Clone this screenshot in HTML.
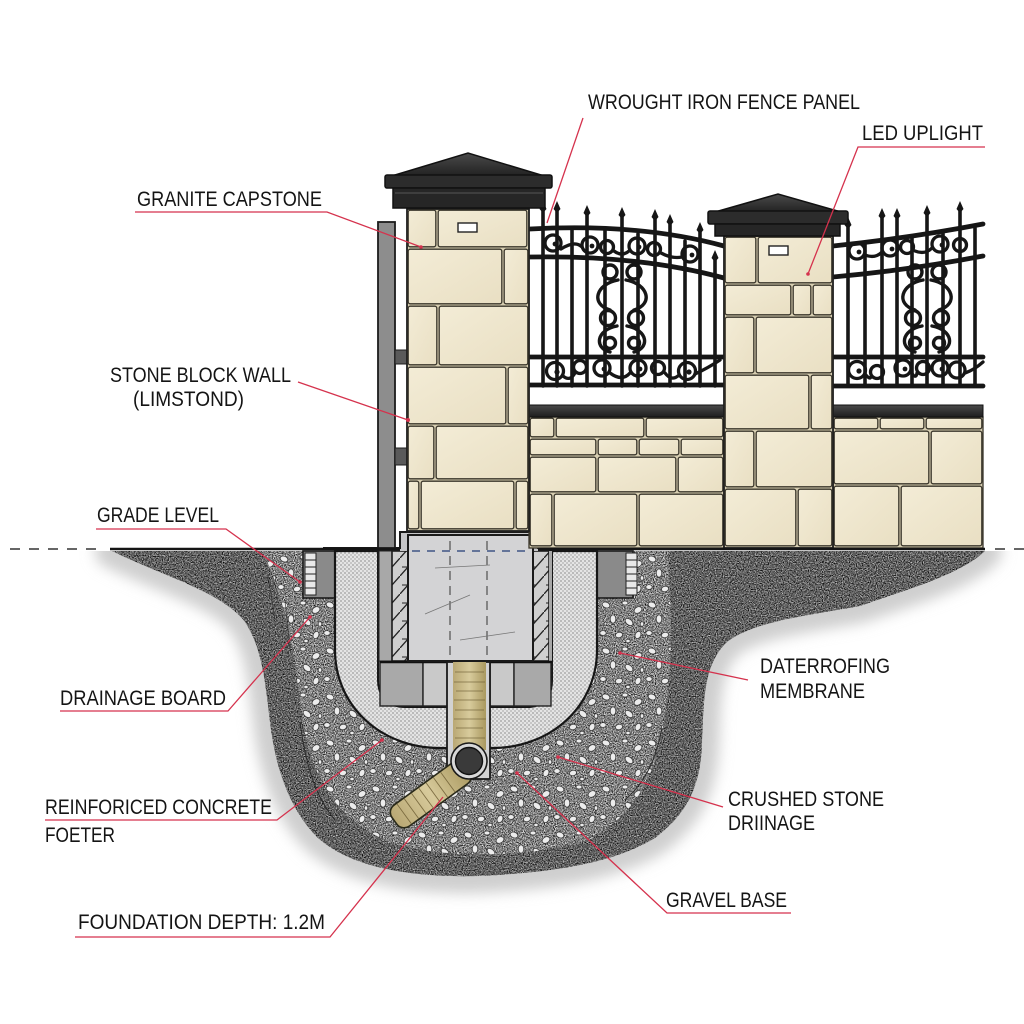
<!DOCTYPE html>
<html><head><meta charset="utf-8"><style>
html,body{margin:0;padding:0;background:#fff;}
svg{display:block;}
text{font-family:"Liberation Sans",sans-serif;fill:#141414;font-size:21px;}
</style></head><body>
<svg width="1024" height="1024" viewBox="0 0 1024 1024" xmlns="http://www.w3.org/2000/svg">
<defs>
  <filter id="nSoil" x="0" y="0" width="1" height="1" color-interpolation-filters="sRGB">
    <feTurbulence type="fractalNoise" baseFrequency="0.85" numOctaves="2" seed="4"/>
    <feColorMatrix type="matrix" values="0.95 0.95 0.95 0 -0.96  0.95 0.95 0.95 0 -0.96  0.95 0.95 0.95 0 -0.96  0 0 0 0 1"/>
  </filter>
  <filter id="nGrav" x="0" y="0" width="1" height="1" color-interpolation-filters="sRGB">
    <feTurbulence type="fractalNoise" baseFrequency="0.9" numOctaves="2" seed="9"/>
    <feColorMatrix type="matrix" values="1.1 1.1 1.1 0 -1.1  1.1 1.1 1.1 0 -1.1  1.1 1.1 1.1 0 -1.1  0 0 0 0 1"/>
  </filter>
  <filter id="blur6"><feGaussianBlur stdDeviation="7"/></filter>
  <clipPath id="below"><rect x="0" y="551" width="1024" height="473"/></clipPath>
  <clipPath id="soilClip"><path d="M 112 551 L 985 551 C 960 575, 905 590, 860 606 C 805 616, 752 622, 727 642 C 703 665, 704 700, 702 745 C 700 790, 685 815, 655 838 C 615 862, 560 872, 480 876 C 405 878, 350 866, 318 838 C 288 808, 275 765, 270 722 C 265 680, 262 648, 245 622 C 222 592, 165 577, 112 551 Z"/></clipPath>
  <clipPath id="gravClip"><path d="M 262 551 L 668 551 C 670 600, 675 660, 664 720 C 656 780, 632 815, 592 838 C 542 858, 440 860, 390 842 C 340 822, 313 782, 303 722 C 296 672, 288 600, 262 551 Z"/></clipPath>
  <pattern id="peb" width="46" height="46" patternUnits="userSpaceOnUse">
    <g fill="#ececec" stroke="#3a3a3a" stroke-width="0.8">
      <ellipse cx="8" cy="7" rx="4" ry="2.8" transform="rotate(20 8 7)"/>
      <ellipse cx="27" cy="5" rx="3" ry="2"/>
      <ellipse cx="40" cy="12" rx="4.2" ry="3" transform="rotate(-30 40 12)"/>
      <ellipse cx="15" cy="21" rx="2.8" ry="4.2"/>
      <ellipse cx="31" cy="24" rx="4.5" ry="2.8" transform="rotate(40 31 24)"/>
      <ellipse cx="5" cy="35" rx="3.2" ry="2.4"/>
      <ellipse cx="21" cy="37" rx="3.6" ry="2.7" transform="rotate(-15 21 37)"/>
      <ellipse cx="40" cy="37" rx="2.8" ry="3.8" transform="rotate(25 40 37)"/>
      <ellipse cx="30" cy="43" rx="2.2" ry="1.8"/>
      <ellipse cx="44" cy="26" rx="1.8" ry="2.3"/>
    </g>
  </pattern>
  <pattern id="dots" width="4" height="4" patternUnits="userSpaceOnUse">
    <rect width="4" height="4" fill="#e4e4e4"/>
    <circle cx="1" cy="1" r="0.9" fill="#9c9c9c"/>
    <circle cx="3" cy="3" r="0.9" fill="#b0b0b0"/>
  </pattern>
  <pattern id="hatch" width="16" height="18" patternUnits="userSpaceOnUse">
    <rect width="16" height="18" fill="#cfcfcf"/>
    <path d="M0 18 L16 0" stroke="#222" stroke-width="1.3"/>
    <path d="M2 9 L8 9" stroke="#222" stroke-width="1"/>
  </pattern>
  <linearGradient id="cap" x1="0" y1="0" x2="0" y2="1">
    <stop offset="0" stop-color="#4a4a4a"/><stop offset="1" stop-color="#1e1e1e"/>
  </linearGradient>
  <linearGradient id="stone" x1="0" y1="0" x2="1" y2="1">
    <stop offset="0" stop-color="#f3ecd6"/><stop offset="1" stop-color="#e9dfc3"/>
  </linearGradient>
  <linearGradient id="pipeg" x1="0" y1="0" x2="1" y2="0">
    <stop offset="0" stop-color="#b9a874"/><stop offset="0.5" stop-color="#d8cb9c"/><stop offset="1" stop-color="#a9985f"/>
  </linearGradient>
</defs>

<rect width="1024" height="1024" fill="#fff"/>

<!-- ===== UNDERGROUND ===== -->
<g clip-path="url(#below)">
  <path d="M 112 551 L 985 551 C 960 575, 905 590, 860 606 C 805 616, 752 622, 727 642 C 703 665, 704 700, 702 745 C 700 790, 685 815, 655 838 C 615 862, 560 872, 480 876 C 405 878, 350 866, 318 838 C 288 808, 275 765, 270 722 C 265 680, 262 648, 245 622 C 222 592, 165 577, 112 551 Z" fill="#cfcfcf" stroke="#cfcfcf" stroke-width="34" stroke-linejoin="round" filter="url(#blur6)"/>
</g>
<g clip-path="url(#soilClip)">
  <rect x="100" y="540" width="900" height="345" filter="url(#nSoil)"/>
  <rect x="100" y="540" width="900" height="345" fill="#000" opacity="0.18"/>
</g>
<g clip-path="url(#gravClip)">
  <rect x="250" y="540" width="430" height="330" filter="url(#nGrav)"/>
  <rect x="250" y="540" width="430" height="330" fill="#000" opacity="0.08"/>
  <rect x="250" y="540" width="430" height="330" fill="url(#peb)"/>
</g>
<path d="M 300 722 C 306 770, 318 800, 335 820" fill="none" stroke="#2a2a2a" stroke-width="1"/>
<path d="M 662 728 C 655 765, 642 785, 625 800" fill="none" stroke="#2a2a2a" stroke-width="1"/>
<path d="M 268 575 L 275 620 M 285 600 L 290 650" stroke="#333" stroke-width="1" opacity="0.7"/>

<!-- side boxes -->
<rect x="303" y="551" width="32" height="47" fill="#8a8a8a" stroke="#1c1c1c" stroke-width="1.6"/>
<rect x="305" y="553" width="11" height="42" fill="#e8e8e8" stroke="#222" stroke-width="1"/>
<path d="M305 560 H316 M305 567 H316 M305 574 H316 M305 581 H316 M305 588 H316" stroke="#222" stroke-width="1"/>
<rect x="597" y="551" width="36" height="47" fill="#8a8a8a" stroke="#1c1c1c" stroke-width="1.6"/>
<rect x="626" y="553" width="11" height="42" fill="#e8e8e8" stroke="#222" stroke-width="1"/>
<path d="M626 560 H637 M626 567 H637 M626 574 H637 M626 581 H637 M626 588 H637" stroke="#222" stroke-width="1"/>

<!-- U band -->
<path d="M 335 551 L 335 650 C 335 705, 380 748, 440 748 L 492 748 C 552 748, 597 705, 597 650 L 597 551 Z" fill="url(#dots)" stroke="#161616" stroke-width="2.2"/>
<path d="M 378 551 L 378 680 C 378 698, 390 707, 405 707 L 527 707 C 542 707, 552 698, 552 680 L 552 551 Z" fill="#a3a3a3" stroke="#161616" stroke-width="2"/>
<rect x="379" y="551" width="13" height="110" fill="#a8a8a8" stroke="#222" stroke-width="1"/>
<rect x="392" y="551" width="16" height="110" fill="url(#hatch)" stroke="#1c1c1c" stroke-width="1.6"/>
<rect x="533" y="551" width="16" height="110" fill="url(#hatch)" stroke="#1c1c1c" stroke-width="1.6"/>
<rect x="549" y="551" width="3" height="110" fill="#a8a8a8"/>
<rect x="380" y="662" width="43" height="44" fill="#a9a9a9" stroke="#222" stroke-width="1.4"/>
<rect x="423" y="662" width="25" height="44" fill="#c9c9c9" stroke="#222" stroke-width="1.4"/>
<rect x="490" y="662" width="24" height="44" fill="#c9c9c9" stroke="#222" stroke-width="1.4"/>
<rect x="514" y="662" width="37" height="44" fill="#a9a9a9" stroke="#222" stroke-width="1.4"/>
<path d="M 380 662 H 552" stroke="#111" stroke-width="2.4"/>
<rect x="447" y="662" width="43" height="117" fill="#d2d2d2" stroke="#1a1a1a" stroke-width="1.8"/>
<rect x="453" y="662" width="33" height="88" fill="url(#pipeg)"/>
<path d="M455 672 H484 M454 682 H485 M456 691 H483 M454 700 H485 M455 710 H484 M454 719 H486 M456 728 H483 M455 738 H485" stroke="#6a5a30" stroke-width="0.8" opacity="0.8"/>
<g transform="rotate(-36 430 795)">
  <rect x="386" y="782" width="90" height="26" rx="9" fill="url(#pipeg)" stroke="#2a2a1a" stroke-width="1.6"/>
  <path d="M398 783 V807 M407 783 V807 M416 783 V807 M425 783 V807 M434 783 V807 M443 783 V807 M452 783 V807" stroke="#6a5a30" stroke-width="0.9" opacity="0.8"/>
</g>
<circle cx="469" cy="761" r="18" fill="#d8d8d8" stroke="#1a1a1a" stroke-width="1.6"/>
<circle cx="469" cy="761" r="13.5" fill="#3a3a3a" stroke="#111" stroke-width="1.4"/>

<!-- block -->
<path d="M 400 551 V 532 H 538 V 551 Z" fill="#c6c6c8"/>
<rect x="408" y="535" width="125" height="126" fill="#d3d3d5" stroke="#1a1a1a" stroke-width="2"/>
<path d="M 323 548 H 400 V 532 H 538 V 548 H 600" fill="none" stroke="#1a1a1a" stroke-width="2"/>
<path d="M 412 551 H 530" stroke="#3f5585" stroke-width="1.6" stroke-dasharray="8 7"/>
<path d="M 450 541 V 660 M 487 541 V 660" stroke="#5a5a5a" stroke-width="1.3" stroke-dasharray="9 6"/>
<path d="M 425 614 L 470 595 M 435 568 L 490 565 M 460 640 L 515 632" stroke="#777" stroke-width="0.8"/>

<!-- ===== ABOVE GROUND ===== -->
<rect x="378" y="222" width="17" height="326" fill="#8d8d8d" stroke="#1c1c1c" stroke-width="1.8"/>
<rect x="395" y="350" width="13" height="14" fill="#5a5a5a" stroke="#1c1c1c" stroke-width="1"/>
<rect x="395" y="448" width="13" height="17" fill="#5a5a5a" stroke="#1c1c1c" stroke-width="1"/>

<g stroke="#3a362b" stroke-width="1.3">
<rect x="529" y="417" width="195" height="131" fill="#d6cdb0"/>
<rect x="833" y="417" width="150" height="131" fill="#d6cdb0"/>
</g>
<g fill="url(#stone)" stroke="#3a362b" stroke-width="1.3">
<rect x="530.2" y="418.2" width="23.6" height="18.6" rx="2"/>
<rect x="556.2" y="418.2" width="87.6" height="18.6" rx="2"/>
<rect x="646.2" y="418.2" width="76.6" height="18.6" rx="2"/>
<rect x="530.2" y="439.2" width="65.6" height="15.6" rx="2"/>
<rect x="598.2" y="439.2" width="38.6" height="15.6" rx="2"/>
<rect x="639.2" y="439.2" width="39.6" height="15.6" rx="2"/>
<rect x="681.2" y="439.2" width="41.6" height="15.6" rx="2"/>
<rect x="530.2" y="457.2" width="65.6" height="34.6" rx="2"/>
<rect x="598.2" y="457.2" width="77.6" height="34.6" rx="2"/>
<rect x="678.2" y="457.2" width="44.6" height="34.6" rx="2"/>
<rect x="530.2" y="494.2" width="21.6" height="51.6" rx="2"/>
<rect x="554.2" y="494.2" width="82.6" height="51.6" rx="2"/>
<rect x="639.2" y="494.2" width="83.6" height="51.6" rx="2"/>
<rect x="834.2" y="418.2" width="43.6" height="10.6" rx="2"/>
<rect x="880.2" y="418.2" width="43.6" height="10.6" rx="2"/>
<rect x="926.2" y="418.2" width="55.6" height="10.6" rx="2"/>
<rect x="834.2" y="431.2" width="94.6" height="52.6" rx="2"/>
<rect x="931.2" y="431.2" width="50.6" height="52.6" rx="2"/>
<rect x="834.2" y="486.2" width="64.6" height="59.6" rx="2"/>
<rect x="901.2" y="486.2" width="80.6" height="59.6" rx="2"/>
</g>
<rect x="529" y="405" width="195" height="12" fill="url(#cap)" stroke="#111" stroke-width="1"/>
<rect x="833" y="405" width="150" height="12" fill="url(#cap)" stroke="#111" stroke-width="1"/>

<!-- ===== FENCE ===== -->
<g fill="none" stroke="#161616" stroke-linecap="round">
  <g stroke-width="3.6">
    <path d="M543 207 V386 M557 207 V386 M572 229 V386 M587 211 V386 M605 231 V386 M622 213 V386 M638 234 V386 M655 215 V386 M670 220 V386 M685 241 V386 M700 228 V386 M715 256 V386"/>
    <path d="M848 223 V386 M865 243 V386 M882 214 V386 M897 214 V386 M912 236 V386 M927 211 V386 M943 232 V386 M960 207 V386 M975 228 V386"/>
  </g>
  <g stroke-width="4.8">
    <path d="M530 229 Q 640 223 724 246"/>
    <path d="M530 257 Q 640 255 724 278"/>
    <path d="M530 357 H724 M530 385 H724"/>
    <path d="M833 246 Q 910 238 983 224"/>
    <path d="M833 277 Q 910 270 983 256"/>
    <path d="M833 357 H983 M833 386 H983"/>
  </g>
  <g stroke-width="3.3">
    <circle cx="553" cy="243" r="8"/><circle cx="590" cy="245" r="8"/><circle cx="607" cy="247" r="6.5"/>
    <circle cx="637" cy="246" r="8"/><circle cx="654" cy="249" r="6.5"/><circle cx="690" cy="254" r="8"/>
    <path d="M561 249 Q 575 240 582 247 M614 251 Q 622 257 629 251 M661 253 Q 672 259 682 257"/>
    <circle cx="555" cy="371" r="8.5"/><circle cx="580" cy="367" r="6.5"/><circle cx="602" cy="368" r="8"/>
    <circle cx="638" cy="368" r="8"/><circle cx="658" cy="368" r="6.5"/><circle cx="687" cy="371" r="8.5"/>
    <path d="M563 376 Q 570 382 575 373 M610 373 Q 622 382 630 373 M665 373 Q 672 382 679 375 M695 374 Q 708 368 720 360"/>
    <circle cx="857" cy="251" r="8"/><circle cx="890" cy="248" r="8"/><circle cx="907" cy="247" r="6.5"/>
    <circle cx="940" cy="244" r="8"/><circle cx="960" cy="245" r="6.5"/>
    <path d="M865 255 Q 875 259 882 252 M915 251 Q 925 255 932 248"/>
    <circle cx="857" cy="370" r="8.5"/><circle cx="877" cy="372" r="6.5"/><circle cx="903" cy="368" r="8"/>
    <circle cx="923" cy="368" r="6.5"/><circle cx="940" cy="368" r="8"/><circle cx="957" cy="370" r="8"/>
    <path d="M865 374 Q 870 380 871 377 M911 372 Q 916 380 917 373 M965 373 Q 974 370 983 362"/>
  </g>
  <g fill="#161616" stroke="none">
    <circle cx="555" cy="244" r="2.4"/><circle cx="592" cy="246" r="2.4"/><circle cx="639" cy="247" r="2.4"/><circle cx="692" cy="255" r="2.4"/>
    <circle cx="557" cy="372" r="2.6"/><circle cx="604" cy="369" r="2.4"/><circle cx="640" cy="369" r="2.4"/><circle cx="689" cy="372" r="2.6"/>
    <circle cx="859" cy="252" r="2.4"/><circle cx="892" cy="249" r="2.4"/><circle cx="942" cy="245" r="2.4"/>
    <circle cx="859" cy="371" r="2.6"/><circle cx="905" cy="369" r="2.4"/><circle cx="942" cy="369" r="2.4"/>
  </g>
  <g stroke-width="3.4">
    <g id="med">
      <circle cx="610" cy="272" r="7"/><circle cx="634" cy="272" r="7"/>
      <path d="M618 280 C 596 284, 590 304, 610 310 M626 280 C 648 284, 654 304, 634 310"/>
      <circle cx="608" cy="318" r="7.5"/><circle cx="636" cy="318" r="7.5"/>
      <path d="M617 326 C 596 330, 594 348, 610 352 M627 326 C 648 330, 650 348, 634 352"/>
      <circle cx="610" cy="343" r="5.5"/><circle cx="634" cy="343" r="5.5"/>
    </g>
    <use href="#med" transform="translate(305 0)"/>
  </g>
</g>
<g fill="#161616">
  <path d="M543 201 l-3.5 8 l3.5 4 l3.5 -4 Z M557 201 l-3.5 8 l3.5 4 l3.5 -4 Z M587 205 l-3.5 8 l3.5 4 l3.5 -4 Z M622 207 l-3.5 8 l3.5 4 l3.5 -4 Z M655 209 l-3.5 8 l3.5 4 l3.5 -4 Z M670 214 l-3.5 8 l3.5 4 l3.5 -4 Z M700 222 l-3.5 8 l3.5 4 l3.5 -4 Z M715 250 l-3.5 8 l3.5 4 l3.5 -4 Z"/>
  <path d="M848 217 l-3.5 8 l3.5 4 l3.5 -4 Z M882 208 l-3.5 8 l3.5 4 l3.5 -4 Z M897 208 l-3.5 8 l3.5 4 l3.5 -4 Z M927 205 l-3.5 8 l3.5 4 l3.5 -4 Z M960 201 l-3.5 8 l3.5 4 l3.5 -4 Z"/>
</g>

<!-- pillars -->
<rect x="407" y="209" width="122" height="322" fill="#d6cdb0" stroke="#1e1e1e" stroke-width="1.8"/>
<rect x="724" y="236" width="109" height="312" fill="#d6cdb0" stroke="#1e1e1e" stroke-width="1.8"/>
<g fill="url(#stone)" stroke="#3a362b" stroke-width="1.3">
<rect x="408.2" y="210.2" width="27.6" height="36.6" rx="2"/>
<rect x="438.2" y="210.2" width="88.6" height="36.6" rx="2"/>
<rect x="408.2" y="249.2" width="93.6" height="54.6" rx="2"/>
<rect x="504.2" y="249.2" width="23.6" height="54.6" rx="2"/>
<rect x="408.2" y="306.2" width="28.6" height="58.6" rx="2"/>
<rect x="439.2" y="306.2" width="88.6" height="58.6" rx="2"/>
<rect x="408.2" y="367.2" width="97.6" height="56.6" rx="2"/>
<rect x="508.2" y="367.2" width="19.6" height="56.6" rx="2"/>
<rect x="408.2" y="426.2" width="25.6" height="52.6" rx="2"/>
<rect x="436.2" y="426.2" width="91.6" height="52.6" rx="2"/>
<rect x="408.2" y="481.2" width="10.6" height="47.6" rx="2"/>
<rect x="421.2" y="481.2" width="92.6" height="47.6" rx="2"/>
<rect x="516.2" y="481.2" width="11.6" height="47.6" rx="2"/>
<rect x="725.2" y="237.2" width="30.6" height="45.6" rx="2"/>
<rect x="758.2" y="237.2" width="73.6" height="45.6" rx="2"/>
<rect x="725.2" y="285.2" width="65.6" height="29.6" rx="2"/>
<rect x="793.2" y="285.2" width="17.6" height="29.6" rx="2"/>
<rect x="813.2" y="285.2" width="18.6" height="29.6" rx="2"/>
<rect x="725.2" y="317.2" width="28.6" height="55.6" rx="2"/>
<rect x="756.2" y="317.2" width="75.6" height="55.6" rx="2"/>
<rect x="725.2" y="375.2" width="83.6" height="53.6" rx="2"/>
<rect x="811.2" y="375.2" width="20.6" height="53.6" rx="2"/>
<rect x="725.2" y="431.2" width="28.6" height="55.6" rx="2"/>
<rect x="756.2" y="431.2" width="75.6" height="55.6" rx="2"/>
<rect x="725.2" y="489.2" width="70.6" height="56.6" rx="2"/>
<rect x="798.2" y="489.2" width="33.6" height="56.6" rx="2"/>
</g>
<rect x="458" y="223" width="19" height="9" fill="#fff" stroke="#222" stroke-width="1.4"/>
<rect x="769" y="246" width="19" height="9" fill="#fff" stroke="#222" stroke-width="1.4"/>

<!-- capstones -->
<polygon points="385,178 468,153 551,178" fill="url(#cap)" stroke="#111" stroke-width="1.5"/>
<rect x="385" y="175" width="167" height="13" rx="2" fill="#2c2c2c" stroke="#111" stroke-width="1.5"/>
<rect x="393" y="188" width="152" height="20" fill="#262626" stroke="#111" stroke-width="1.5"/>
<path d="M395 193 H543" stroke="#555" stroke-width="1"/>
<polygon points="708,214 778,194 848,214" fill="url(#cap)" stroke="#111" stroke-width="1.5"/>
<rect x="708" y="211" width="140" height="13" rx="2" fill="#2c2c2c" stroke="#111" stroke-width="1.5"/>
<rect x="715" y="224" width="125" height="12" fill="#262626" stroke="#111" stroke-width="1.5"/>

<!-- grade line -->
<path d="M10 549 H105" stroke="#333" stroke-width="1.5" stroke-dasharray="10 9"/>
<path d="M110 549 H400 M538 549 H985" stroke="#151515" stroke-width="2.4"/>
<path d="M995 549 H1024" stroke="#333" stroke-width="1.5" stroke-dasharray="10 9"/>

<!-- ===== LABELS ===== -->
<g stroke="#d5324d" stroke-width="1.3" fill="none">
  <path d="M583 118 L547 223"/>
  <path d="M985 147 H858 L808 274"/>
  <path d="M135 212 H327 L421 247"/>
  <path d="M298 382 L408 420"/>
  <path d="M96 529 H226 L300 582"/>
  <path d="M60 711 H228 L310 617"/>
  <path d="M45 820 H277 L382 740"/>
  <path d="M75 937 H330 L443 797"/>
  <path d="M748 680 L620 653"/>
  <path d="M723 807 L558 757"/>
  <path d="M791 913 H667 L517 773"/>
</g>
<g fill="#d5324d">
  <circle cx="421" cy="247" r="1.8"/><circle cx="408" cy="420" r="2"/><circle cx="300" cy="582" r="1.8"/>
  <circle cx="310" cy="617" r="1.8"/><circle cx="382" cy="740" r="1.8"/><circle cx="620" cy="653" r="1.8"/>
  <circle cx="558" cy="757" r="1.8"/><circle cx="517" cy="773" r="1.8"/><circle cx="808" cy="274" r="1.8"/>
</g>
<text x="588" y="109" textLength="272" lengthAdjust="spacingAndGlyphs">WROUGHT IRON FENCE PANEL</text>
<text x="862" y="140" textLength="121" lengthAdjust="spacingAndGlyphs">LED UPLIGHT</text>
<text x="137" y="206" textLength="185" lengthAdjust="spacingAndGlyphs">GRANITE CAPSTONE</text>
<text x="110" y="382" textLength="181" lengthAdjust="spacingAndGlyphs">STONE BLOCK WALL</text>
<text x="133" y="406" textLength="111" lengthAdjust="spacingAndGlyphs">(LIMSTOND)</text>
<text x="97" y="522" textLength="122" lengthAdjust="spacingAndGlyphs">GRADE LEVEL</text>
<text x="60" y="705" textLength="166" lengthAdjust="spacingAndGlyphs">DRAINAGE BOARD</text>
<text x="45" y="814" textLength="227" lengthAdjust="spacingAndGlyphs">REINFORICED CONCRETE</text>
<text x="45" y="842" textLength="70" lengthAdjust="spacingAndGlyphs">FOETER</text>
<text x="78" y="929" textLength="247" lengthAdjust="spacingAndGlyphs">FOUNDATION DEPTH: 1.2M</text>
<text x="760" y="673" textLength="130" lengthAdjust="spacingAndGlyphs">DATERROFING</text>
<text x="760" y="698" textLength="105" lengthAdjust="spacingAndGlyphs">MEMBRANE</text>
<text x="728" y="806" textLength="156" lengthAdjust="spacingAndGlyphs">CRUSHED STONE</text>
<text x="728" y="830" textLength="87" lengthAdjust="spacingAndGlyphs">DRIINAGE</text>
<text x="666" y="907" textLength="121" lengthAdjust="spacingAndGlyphs">GRAVEL BASE</text>
</svg>
</body></html>
